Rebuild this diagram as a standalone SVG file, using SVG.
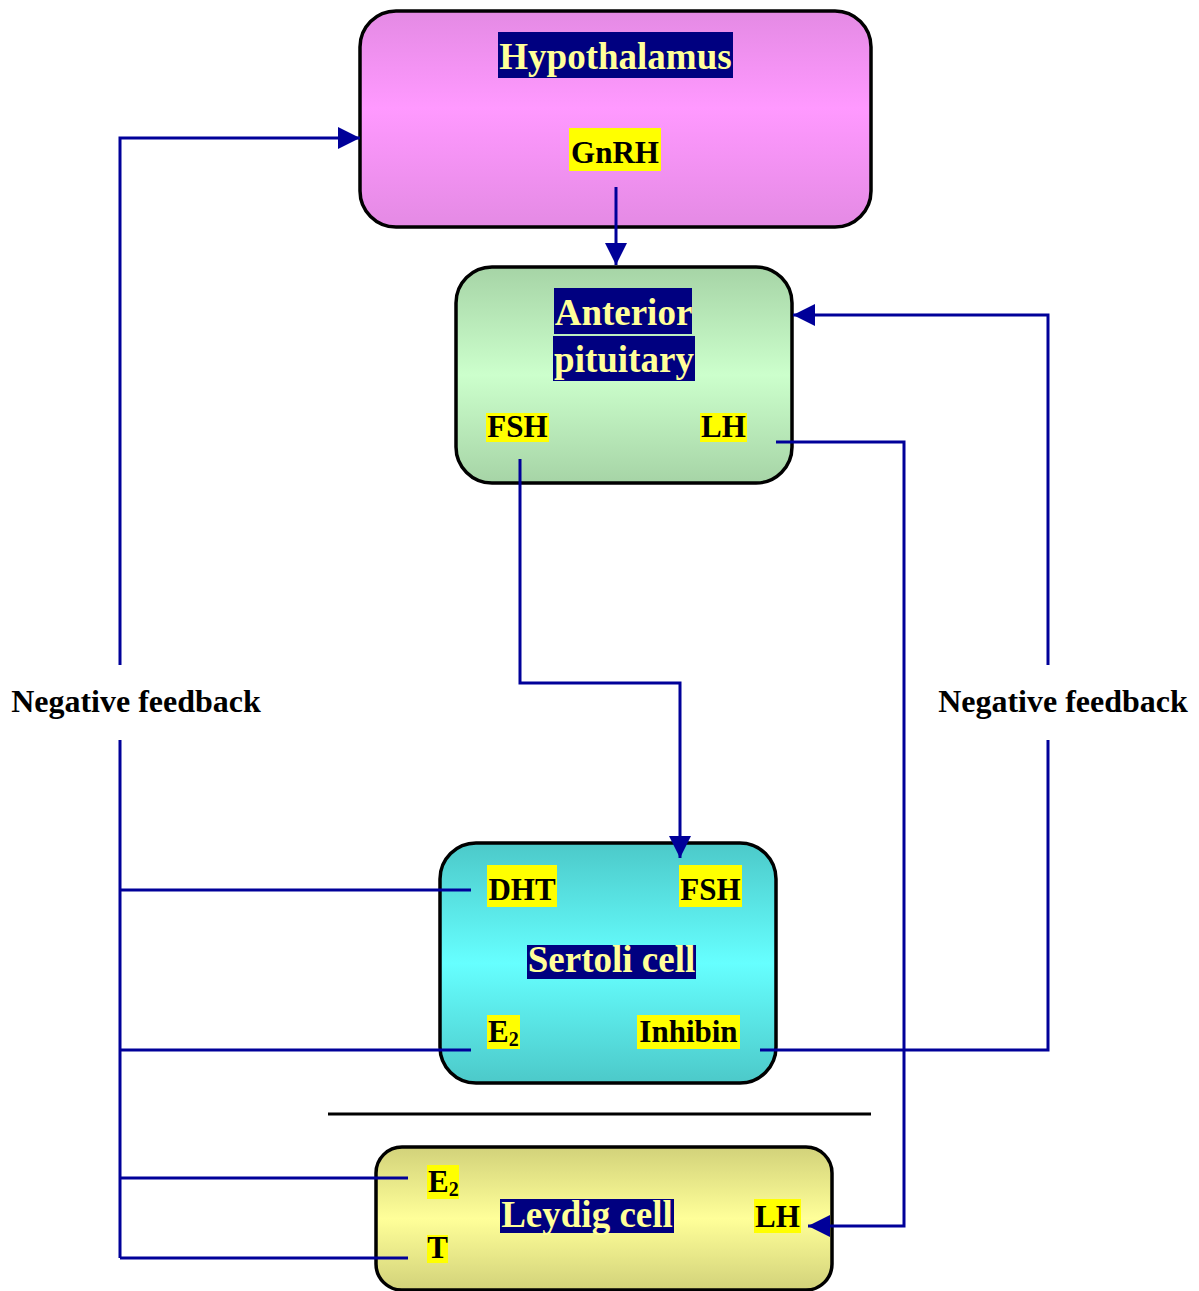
<svg xmlns="http://www.w3.org/2000/svg" width="1199" height="1291" viewBox="0 0 1199 1291">
<defs>
<linearGradient id="gHyp" x1="0" y1="0" x2="0" y2="1"><stop offset="0" stop-color="#e48ae4"/><stop offset="0.45" stop-color="#ff99ff"/><stop offset="1" stop-color="#e48ae4"/></linearGradient>
<linearGradient id="gPit" x1="0" y1="0" x2="0" y2="1"><stop offset="0" stop-color="#a6d4a6"/><stop offset="0.5" stop-color="#ccffcc"/><stop offset="1" stop-color="#a6d4a6"/></linearGradient>
<linearGradient id="gSer" x1="0" y1="0" x2="0" y2="1"><stop offset="0" stop-color="#4cc9c9"/><stop offset="0.5" stop-color="#66ffff"/><stop offset="1" stop-color="#4cc9c9"/></linearGradient>
<linearGradient id="gLey" x1="0" y1="0" x2="0" y2="1"><stop offset="0" stop-color="#d2d27a"/><stop offset="0.5" stop-color="#ffff99"/><stop offset="1" stop-color="#d2d27a"/></linearGradient>
<marker id="arr" markerUnits="userSpaceOnUse" markerWidth="24" markerHeight="24" viewBox="0 0 24 24" refX="22" refY="12" orient="auto"><path d="M0,1 L22,12 L0,23 Z" fill="#000099"/></marker>
</defs>
<style>
.box{stroke:#000;stroke-width:3.5}
.tbg{fill:#000080}
.lbg{fill:#ffff00}
.title{font-family:"Liberation Serif","Times New Roman",serif;font-weight:bold;font-size:37px;fill:#ffff99}
.lab{font-family:"Liberation Serif","Times New Roman",serif;font-weight:bold;font-size:31px;fill:#000}
.nf{font-size:32px}
.sub{font-size:20px}
.con{fill:none;stroke:#000099;stroke-width:3}
</style>

<g id="hypothalamus">
<rect class="box" x="360" y="11" width="511" height="216" rx="36" fill="url(#gHyp)"/>
<rect class="tbg" x="498" y="32" width="235" height="46"/>
<text class="title" x="615.5" y="69" text-anchor="middle">Hypothalamus</text>
<rect class="lbg" x="569" y="128" width="92" height="43"/>
<text class="lab" x="615" y="163" text-anchor="middle">GnRH</text>
</g>

<g id="anterior-pituitary">
<rect class="box" x="456" y="267" width="336" height="216" rx="36" fill="url(#gPit)"/>
<rect class="tbg" x="554" y="288" width="138" height="46"/>
<rect class="tbg" x="553" y="336" width="142" height="45"/>
<text class="title" x="623.5" y="325" text-anchor="middle">Anterior</text>
<text class="title" x="624" y="372" text-anchor="middle">pituitary</text>
<rect class="lbg" x="486" y="413" width="63" height="29"/>
<text class="lab" x="517.5" y="437" text-anchor="middle">FSH</text>
<rect class="lbg" x="700" y="413" width="47" height="29"/>
<text class="lab" x="723.5" y="437" text-anchor="middle">LH</text>
</g>

<g id="sertoli-cell">
<rect class="box" x="440" y="843" width="336" height="240" rx="36" fill="url(#gSer)"/>
<rect class="lbg" x="487" y="865" width="70" height="42"/>
<text class="lab" x="522" y="900" text-anchor="middle">DHT</text>
<rect class="lbg" x="679" y="865" width="63" height="42"/>
<text class="lab" x="710.5" y="900" text-anchor="middle">FSH</text>
<rect class="tbg" x="527" y="945" width="169" height="34"/>
<text class="title" x="611.5" y="972" text-anchor="middle">Sertoli cell</text>
<rect class="lbg" x="487" y="1015" width="33" height="34"/>
<text class="lab" x="488" y="1042">E<tspan class="sub" dy="4">2</tspan></text>
<rect class="lbg" x="637" y="1015" width="103" height="34"/>
<text class="lab" x="688.5" y="1042" text-anchor="middle">Inhibin</text>
</g>

<line x1="328" y1="1114" x2="871" y2="1114" stroke="#000" stroke-width="3"/>

<g id="leydig-cell">
<rect class="box" x="376" y="1147" width="456" height="143" rx="26" fill="url(#gLey)"/>
<rect class="lbg" x="427" y="1165" width="32" height="34"/>
<text class="lab" x="428" y="1192">E<tspan class="sub" dy="4">2</tspan></text>
<rect class="lbg" x="427" y="1235" width="21" height="28"/>
<text class="lab" x="437.5" y="1258" text-anchor="middle">T</text>
<rect class="tbg" x="500" y="1199" width="174" height="34"/>
<text class="title" x="587" y="1227" text-anchor="middle">Leydig cell</text>
<rect class="lbg" x="754" y="1199" width="47" height="34"/>
<text class="lab" x="777.5" y="1227" text-anchor="middle">LH</text>
</g>

<g id="connectors">
<path class="con" d="M616,187 V265" marker-end="url(#arr)"/>
<path class="con" d="M520,459 V683 H680 V858" marker-end="url(#arr)"/>
<path class="con" d="M776,442 H904 V1226 H808" marker-end="url(#arr)"/>
<path class="con" d="M760,1050 H1048 V740"/>
<path class="con" d="M1048,665 V315 H793" marker-end="url(#arr)"/>
<path class="con" d="M120,1258 V740"/>
<path class="con" d="M120,665 V138 H360" marker-end="url(#arr)"/>
<path class="con" d="M120,890 H471"/>
<path class="con" d="M120,1050 H471"/>
<path class="con" d="M120,1178 H408"/>
<path class="con" d="M120,1258 H408"/>
</g>

<g id="feedback-labels">
<text class="lab nf" x="136" y="712" text-anchor="middle">Negative feedback</text>
<text class="lab nf" x="1063" y="712" text-anchor="middle">Negative feedback</text>
</g>
</svg>
